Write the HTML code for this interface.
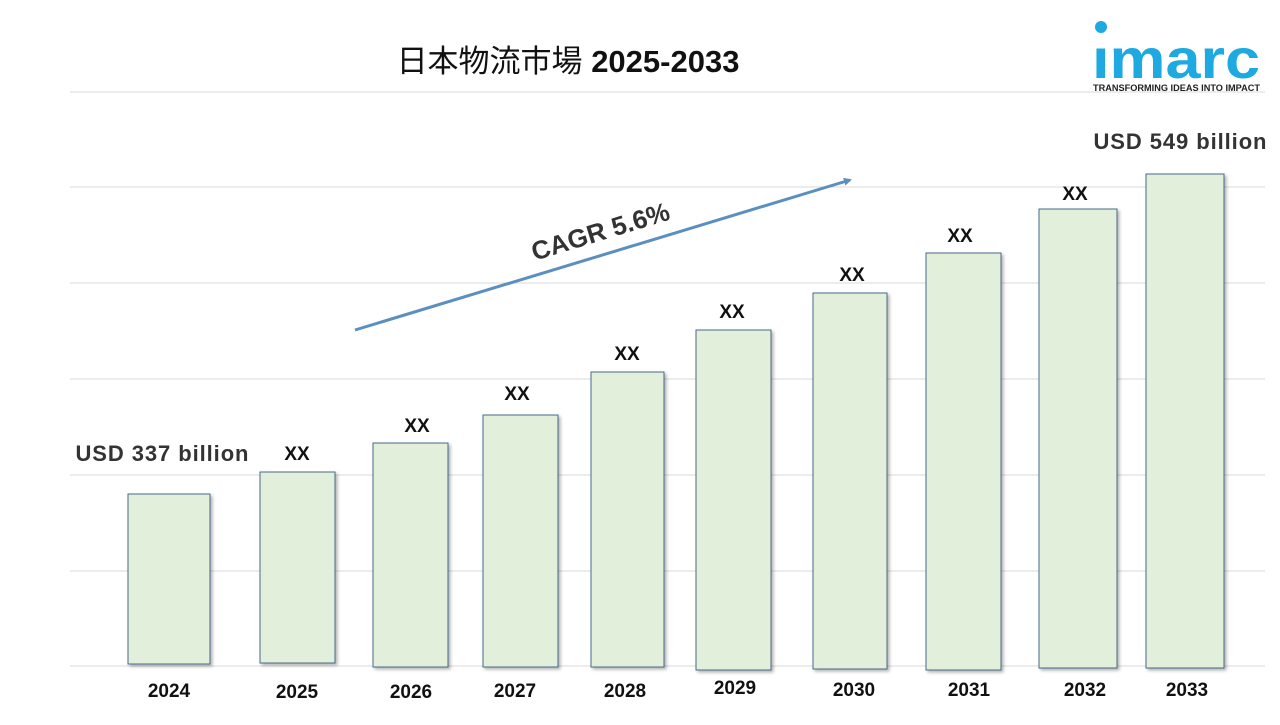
<!DOCTYPE html>
<html><head><meta charset="utf-8"><style>
body{margin:0;background:#fff;width:1280px;height:720px;overflow:hidden}
svg text{font-family:"Liberation Sans","Noto Sans CJK JP",sans-serif}
</style></head><body>
<svg width="1280" height="720" viewBox="0 0 1280 720">
<defs><filter id="sh" x="-10%" y="-10%" width="130%" height="130%"><feDropShadow dx="2" dy="2" stdDeviation="1.5" flood-color="#000" flood-opacity="0.3"/></filter>
<marker id="ah" markerWidth="8" markerHeight="8" refX="6" refY="4" orient="auto" markerUnits="userSpaceOnUse"><path d="M0,0 L8,4 L0,8 z" fill="#5b8fc0"/></marker></defs>
<g stroke="#d9d9d9" stroke-width="1">
<line x1="70" y1="92" x2="1265" y2="92"/><line x1="70" y1="187" x2="1265" y2="187"/><line x1="70" y1="283" x2="1265" y2="283"/><line x1="70" y1="379" x2="1265" y2="379"/><line x1="70" y1="475" x2="1265" y2="475"/><line x1="70" y1="571" x2="1265" y2="571"/><line x1="70" y1="666" x2="1265" y2="666"/>
</g>
<text x="568" y="72" font-size="31" text-anchor="middle" fill="#111">日本物流市場 <tspan font-weight="bold">2025-2033</tspan></text>
<g fill="#e2efda" stroke="#4a6a8a" stroke-width="1" filter="url(#sh)">
<rect x="128" y="494" width="82" height="170"/>
<rect x="260" y="472" width="75" height="191"/>
<rect x="373" y="443" width="75" height="224"/>
<rect x="483" y="415" width="75" height="252"/>
<rect x="591" y="372" width="73" height="295"/>
<rect x="696" y="330" width="75" height="340"/>
<rect x="813" y="293" width="74" height="376"/>
<rect x="926" y="253" width="75" height="417"/>
<rect x="1039" y="209" width="78" height="459"/>
<rect x="1146" y="174" width="78" height="494"/>
</g>
<g font-size="19" font-weight="bold" fill="#111" text-anchor="middle">
<text x="169" y="697">2024</text><text x="297" y="698">2025</text><text x="411" y="698">2026</text><text x="515" y="697">2027</text><text x="625" y="697">2028</text><text x="735" y="694">2029</text><text x="854" y="696">2030</text><text x="969" y="696">2031</text><text x="1085" y="696">2032</text><text x="1187" y="696">2033</text>
</g>
<g font-size="19" font-weight="bold" fill="#111" text-anchor="middle">
<text x="297" y="460">XX</text><text x="417" y="432">XX</text><text x="517" y="400">XX</text><text x="627" y="360">XX</text><text x="732" y="318">XX</text><text x="852" y="281">XX</text><text x="960" y="242">XX</text><text x="1075" y="200">XX</text>
</g>
<text x="162" y="461" font-size="22" font-weight="bold" fill="#333" text-anchor="middle" textLength="173">USD 337 billion</text>
<text x="1180" y="149" font-size="22" font-weight="bold" fill="#333" text-anchor="middle" textLength="173">USD 549 billion</text>
<line x1="355" y1="330" x2="850" y2="180" stroke="#5b8fc0" stroke-width="3" marker-end="url(#ah)"/>
<text x="603" y="240" font-size="26" font-weight="bold" fill="#333" text-anchor="middle" transform="rotate(-17 603 240)">CAGR 5.6%</text>
<circle cx="1101" cy="27" r="6" fill="#1ea9e1"/>
<text x="1092" y="78" font-size="56" font-weight="bold" fill="#1ea9e1" textLength="168" lengthAdjust="spacingAndGlyphs">ımarc</text>
<text x="1093" y="91" font-size="9" font-weight="bold" fill="#222" textLength="167" lengthAdjust="spacingAndGlyphs">TRANSFORMING IDEAS INTO IMPACT</text>
</svg>
</body></html>
